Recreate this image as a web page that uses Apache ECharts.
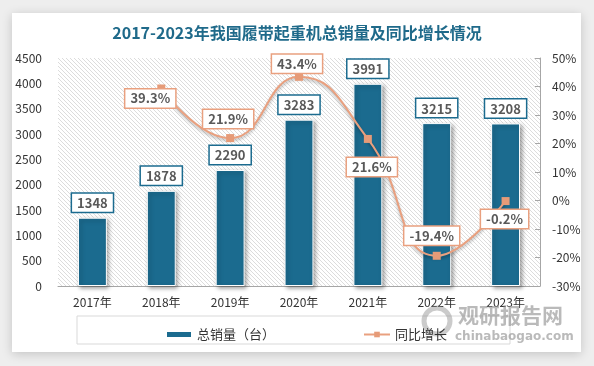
<!DOCTYPE html>
<html><head><meta charset="utf-8">
<script src="https://cdn.jsdelivr.net/npm/echarts@6/dist/echarts.min.js"></script>
<style>html,body{margin:0;padding:0;background:#eeeeee;}#c{width:594px;height:366px;}</style>
</head><body><div id="c"></div>
<script>
const categories = ['2017年','2018年','2019年','2020年','2021年','2022年','2023年'];
const sales = [1348, 1878, 2290, 3283, 3991, 3215, 3208];
const growth = [null, 39.3, 21.9, 43.4, 21.6, -19.4, -0.2];
const growthLabelOffsets = [null, [-11,10], [-2,-19], [-2,-13], [4,28], [-5,-20], [-1,18]];
const leftTicks = {min:0, max:4500, interval:500};
const rightTicks = {min:-30, max:50, interval:10};

// hatch pattern
const pc = document.createElement('canvas');
pc.width = 4; pc.height = 4;
const g = pc.getContext('2d');
g.fillStyle = '#ffffff'; g.fillRect(0,0,4,4);
g.strokeStyle = '#dcdcdc'; g.lineWidth = 1;
g.beginPath();
g.moveTo(-1,-1); g.lineTo(5,5);
g.moveTo(-5,-1); g.lineTo(1,5);
g.moveTo(3,-1); g.lineTo(9,5);
g.stroke();

const font = '"Noto Sans CJK SC", "Noto Sans", sans-serif';
const chart = echarts.init(document.getElementById('c'), null, {renderer:'canvas'});
const orange = '#e9a07f';
const teal = '#1b6b8f';

chart.setOption({
  backgroundColor: '#eeeeee',
  animation: false,
  textStyle: {fontFamily: font},
  graphic: [
    {type:'rect', z:-10, shape:{x:12,y:13,width:569,height:339}, style:{fill:'#fff', shadowBlur:10, shadowColor:'rgba(0,0,0,0.18)', shadowOffsetX:0, shadowOffsetY:2}},
    {type:'rect', z:1, shape:{x:77,y:316,width:433,height:28}, style:{fill:'none', stroke:'#d9d9d9', lineWidth:1}},
    {type:'text', z:2, left:458, top:305, style:{text:'观研报告网', fill:'rgba(140,140,140,0.6)', font:'bold 21px "Noto Sans CJK SC"'}},
    {type:'text', z:2, left:455, top:331, style:{text:'chinabaogao.com', fill:'rgba(140,140,140,0.6)', font:'bold 12px "DejaVu Sans"'}},
    {type:'circle', z:2, shape:{cx:437, cy:321, r:13}, style:{fill:'none', stroke:'rgba(140,140,140,0.45)', lineWidth:5}}
  ],
  title: {
    text: '2017-2023年我国履带起重机总销量及同比增长情况',
    left: 'center', top: 20,
    textStyle: {color:'#1f6a8a', fontSize:16, fontWeight:'bold', fontFamily: font}
  },
  legend: {
    left: 160, top: 323,
    itemWidth: 26, itemHeight: 7, itemGap: 88,
    textStyle: {fontSize:13, color:'#333', fontFamily: font},
    data: [{name:'总销量（台）', icon:'rect'}, {name:'同比增长'}]
  },
  grid: {left:58, right:54, top:58, bottom:80, show:true, borderWidth:0,
    backgroundColor: {image: pc, repeat:'repeat'}},
  xAxis: {
    type:'category', data: categories,
    axisLine:{lineStyle:{color:'#a6a6a6'}}, axisTick:{show:false},
    axisLabel:{color:'#333', fontSize:12, margin:10, fontFamily: font}
  },
  yAxis: [
    {type:'value', min:leftTicks.min, max:leftTicks.max, interval:leftTicks.interval,
      splitLine:{show:false}, axisLine:{show:false}, axisTick:{show:false},
      axisLabel:{color:'#333', fontSize:12, margin:16, fontFamily: font, formatter: v => String(v)}},
    {type:'value', min:rightTicks.min, max:rightTicks.max, interval:rightTicks.interval, position:'right',
      splitLine:{show:false}, axisLine:{show:true, lineStyle:{color:'#a6a6a6'}},
      axisTick:{show:true, inside:true, length:5, lineStyle:{color:'#a6a6a6'}},
      axisLabel:{color:'#333', fontSize:12, margin:12, formatter:'{value}%', fontFamily: font}}
  ],
  series: [
    {name:'总销量（台）', type:'bar', data: sales, barWidth:'42%', yAxisIndex:0,
      itemStyle:{color:teal, borderColor:'#fff', borderWidth:1, shadowBlur:4, shadowColor:'rgba(0,0,0,0.35)', shadowOffsetX:2, shadowOffsetY:2},
      label:{show:true, position:'top', distance:6, color:'#595959', fontWeight:'bold', fontSize:13,
        backgroundColor:'#fff', borderColor:teal, borderWidth:1.5, padding:[3,5,2,5], fontFamily: font}},
    {name:'同比增长', type:'line', data: growth.map((v,i)=> v===null ? null : {
        value: v,
        label:{offset: growthLabelOffsets[i]}
      }), yAxisIndex:1, smooth:true, connectNulls:false,
      symbol:'rect', symbolSize:8, z:5,
      lineStyle:{color:orange, width:2, shadowBlur:3, shadowColor:'rgba(0,0,0,0.3)', shadowOffsetY:2},
      itemStyle:{color:'#e69b78'},
      label:{show:true, position:'inside', formatter: p => p.value.toFixed(1) + '%', color:'#595959', fontWeight:'bold', fontSize:13,
        backgroundColor:'#fff', borderColor:orange, borderWidth:1.5, padding:[3,5,2,5], fontFamily: font}}
  ]
});
</script></body></html>
